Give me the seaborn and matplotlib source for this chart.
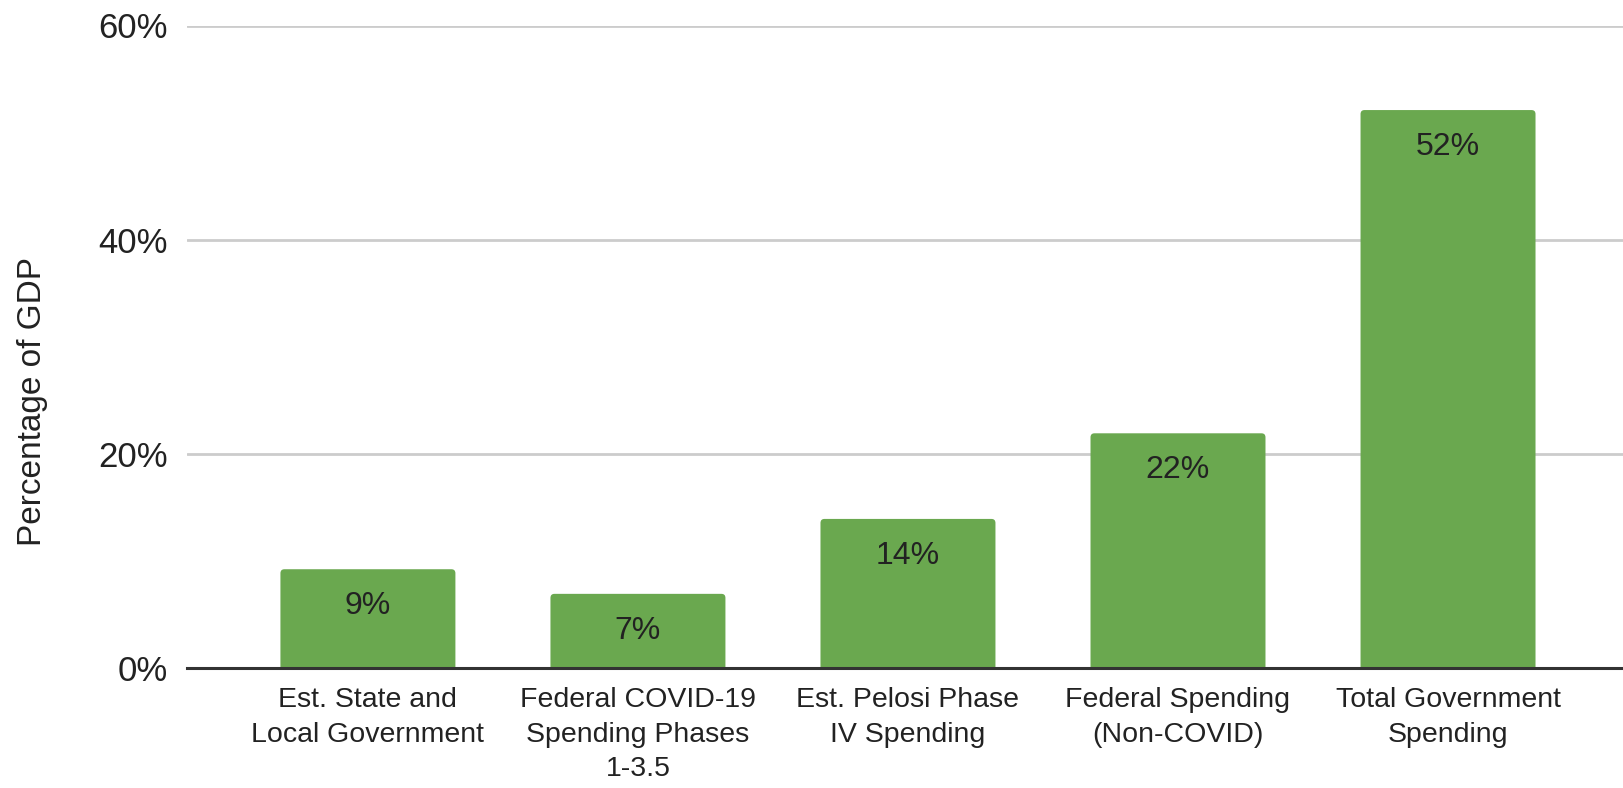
import matplotlib
matplotlib.use("Agg")
import matplotlib.pyplot as plt
import seaborn as sns
import pandas as pd
from matplotlib.patches import FancyBboxPatch
from matplotlib.ticker import FuncFormatter

# Government spending as a share of GDP
categories = [
    "Est. State and\nLocal Government",
    "Federal COVID-19\nSpending Phases\n1-3.5",
    "Est. Pelosi Phase\nIV Spending",
    "Federal Spending\n(Non-COVID)",
    "Total Government\nSpending",
]
values = [9.2, 6.9, 13.9, 21.9, 52.1]
y_ticks = [0, 20, 40, 60]

df = pd.DataFrame({"category": categories, "pct": values})

sns.set_theme(style="white")
plt.rcParams["font.family"] = ["Liberation Sans", "DejaVu Sans"]

W, H = 1623, 788
fig = plt.figure(figsize=(W / 100, H / 100), dpi=100)
ax_left, ax_bottom_px, ax_top_px = 187, 667.7, 25.5
ax = fig.add_axes([ax_left / W, 1 - ax_bottom_px / H,
                   (W - ax_left) / W, (ax_bottom_px - ax_top_px) / H])

sns.barplot(data=df, x="category", y="pct", color="#6aa84f", saturation=1,
            width=0.648, ax=ax, zorder=3)

ax.set_ylim(0, 60)
ax.set_xlim(-0.670, 4.648)

# give the bars softly rounded top corners
px_per_x = (W - ax_left) / (4.648 + 0.670)
px_per_y = (ax_bottom_px - ax_top_px) / 60
radius_px = 4
for p in list(ax.patches):
    x0, w, h = p.get_x(), p.get_width(), p.get_height()
    rounded = FancyBboxPatch(
        (x0, -2), w, h + 2,
        boxstyle=f"round,pad=0,rounding_size={radius_px / px_per_x}",
        mutation_aspect=px_per_x / px_per_y,
        facecolor=p.get_facecolor(), edgecolor="none", zorder=3)
    p.remove()
    ax.add_patch(rounded)

# value labels inside the top of each bar
for i, v in enumerate(values):
    ax.annotate(f"{round(v):.0f}%", xy=(i, v), xytext=(0, -26.5),
                textcoords="offset points", ha="center", va="center",
                fontsize=23, color="#222222", zorder=4)

ax.set_yticks(y_ticks)
ax.yaxis.set_major_formatter(FuncFormatter(lambda v, _: f"{v:.0f}%"))
ax.grid(axis="y", color="#cccccc", linewidth=2, zorder=0)
ax.grid(axis="x", visible=False)

for side in ["top", "right", "left"]:
    ax.spines[side].set_visible(False)
ax.spines["bottom"].set_color("#333333")
ax.spines["bottom"].set_linewidth(2.2)
ax.spines["bottom"].set_zorder(5)

ax.tick_params(axis="y", length=0, pad=14, labelsize=25, labelcolor="#222222")
ax.tick_params(axis="x", length=0, pad=14, labelsize=20.5, labelcolor="#222222")
for lab in ax.get_xticklabels():
    lab.set_linespacing(1.42)

ax.set_xlabel("")
ax.set_ylabel("Percentage of GDP", fontsize=24, color="#222222")
ax.yaxis.set_label_coords((48 - ax_left) / (W - ax_left), 0.414)

fig.savefig("out.png", dpi=100)
